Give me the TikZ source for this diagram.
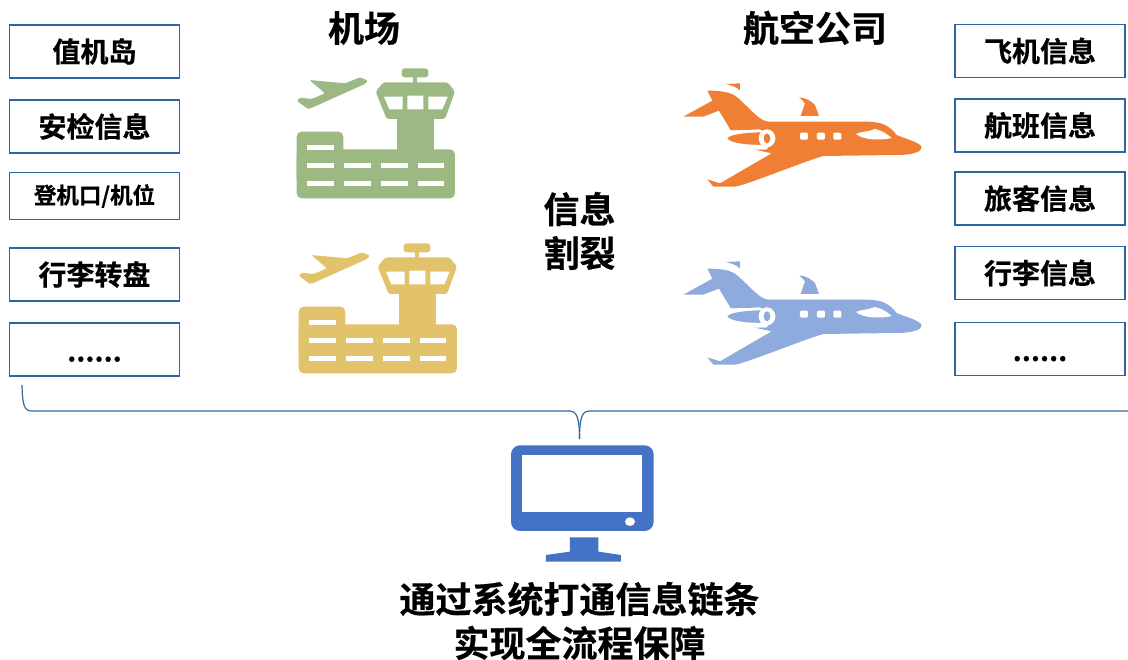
\documentclass[tikz,border=0pt]{standalone}
\usepackage{fontspec}
\setmainfont{Noto Sans CJK SC Bold}[FakeBold=0.5]
\definecolor{bx}{HTML}{2F659F}
\definecolor{agreen}{HTML}{9DB983}
\definecolor{ayellow}{HTML}{E3C26C}
\definecolor{porange}{HTML}{EF7F34}
\definecolor{pblue}{HTML}{8FAADC}
\definecolor{mon}{HTML}{4472C4}
\tikzset{
  infobox/.style={draw=bx,line width=1.5pt,minimum width=170pt,minimum height=53pt,inner sep=0pt,font=\fontsize{28}{30}\selectfont},
  smallbox/.style={infobox,font=\fontsize{22.5}{26}\selectfont},
  headline/.style={font=\fontsize{36}{44}\selectfont,align=center,inner sep=0pt},
  bracketline/.style={draw=bx,line width=1.2pt}
}
\newcommand{\airporticon}[1]{%
  \fill[#1,rounded corners=3pt] (365,55) rectangle (445,82);
  \fill[#1] (398,80) rectangle (412,100);
  \fill[#1,rounded corners=2.5pt]
    (310,97) -- (503,97) -- (525,125) -- (495,207) -- (320,207) -- (287,125) -- cycle;
  \fill[#1] (350,200) rectangle (462,305);
  \fill[white] (312,140) -- (368,140) -- (368,178) -- (328,178) -- cycle
    (382,137) -- (430,137) -- (430,178) -- (382,178) -- cycle
    (445,140) -- (503,140) -- (487,178) -- (445,178) -- cycle;
  \fill[#1,rounded corners=5pt] (50,245) rectangle (190,400);
  \fill[#1,rounded corners=5pt] (50,298) rectangle (525,445);
  \fill[white] (82,285) rectangle (162,300);
  \foreach \yy in {338,392}{
    \foreach \xx in {82,192,303,413}{
      \fill[white] (\xx,\yy) rectangle ++(80,15);
    }
  }
  \fill[#1,rounded corners=1.5pt]
    (264,92) -- (240,82) -- (195,100) -- (88,90) -- (135,130) -- (95,147) -- (60,143) -- (50,152) -- (85,178) -- (255,102) -- cycle;
}
\newcommand{\planeicon}[1]{%
  \fill[#1] (755,232) .. controls (752,218) and (710,208) .. (680,195)
    .. controls (660,170) and (640,155) .. (590,155)
    -- (300,155) .. controls (270,155) and (255,130) .. (205,85)
    .. controls (185,65) and (150,62) .. (112,62) -- (127,92) -- (40,140) -- (100,140) -- (147,122) -- (183,182)
    -- (270,178) -- (318,205) -- (290,238) -- (250,238) -- (305,250) -- (150,340) -- (112,328) -- (130,350) -- (195,350)
    .. controls (230,345) and (400,275) .. (460,258)
    -- (680,255) .. controls (730,255) and (755,245) .. (755,232) -- cycle;
  \fill[#1] (167,42) -- (210,40) -- (210,62) .. controls (200,50) and (185,47) .. (167,42) -- cycle;
  \fill[#1] (388,82) .. controls (410,84) and (425,95) .. (435,105) -- (447,138) -- (392,138) -- (405,100) -- cycle;
  \fill[white] (150,182) -- (270,180) -- (290,238) -- (200,240) -- cycle;
  \fill[#1] (172,205) .. controls (180,192) and (240,187) .. (280,187) -- (280,224) .. controls (240,226) and (180,220) .. (172,205) -- cycle;
  \fill[white] (291,205) ellipse [x radius=25,y radius=27];
  \fill[#1] (291,205) ellipse [x radius=10,y radius=15];
  \foreach \xx in {390,441,490}{
    \fill[white,rounded corners=1.2pt] (\xx,188) rectangle ++(24,21);
  }
  \fill[white] (558,192) .. controls (570,185) and (595,186) .. (615,177)
    .. controls (635,180) and (655,195) .. (665,204)
    .. controls (640,211) and (580,212) .. (558,192) -- cycle;
}
\begin{document}
\begin{tikzpicture}[x=1pt,y=-1pt]
\useasboundingbox (0,0) rectangle (1128,660);
% left boxes
\node[infobox] (a1) at (94.5,51.5) {值机岛};
\node[infobox] (a2) at (94.5,126.5) {安检信息};
\node[smallbox,minimum height=47pt] (a3) at (94.5,196) {登机口/机位};
\node[infobox] (a4) at (94.5,274.5) {行李转盘};
\node[infobox] (a5) at (94.5,349.5) {\raisebox{-12pt}[0pt][0pt]{......}};
% right boxes
\node[infobox] (b1) at (1040,51) {飞机信息};
\node[infobox] (b2) at (1040,125.5) {航班信息};
\node[infobox] (b3) at (1040,198.5) {旅客信息};
\node[infobox] (b4) at (1040,273) {行李信息};
\node[infobox] (b5) at (1040,349) {\raisebox{-12pt}[0pt][0pt]{......}};
% titles
\node[headline] (t1) at (364,28) {机场};
\node[headline] (t2) at (815,28) {航空公司};
\node[headline] (t3) at (579.5,231) {信息\\割裂};
\node[headline] (t4) at (579.5,621) {通过系统打通信息链条\\实现全流程保障};
% icons
\begin{scope}[shift={(280,50)},x=0.3333pt,y=-0.3333pt]\airporticon{agreen}\end{scope}
\begin{scope}[shift={(282,225)},x=0.3333pt,y=-0.3333pt]\airporticon{ayellow}\end{scope}
\begin{scope}[shift={(670,70)},x=0.3333pt,y=-0.3333pt]\planeicon{porange}\end{scope}
\begin{scope}[shift={(670,248)},x=0.3333pt,y=-0.3333pt]\planeicon{pblue}\end{scope}
% monitor
\begin{scope}[shift={(490,395)},x=0.3333pt,y=-0.3333pt]
  \fill[mon,rounded corners=9pt] (63,151) rectangle (491,408);
  \fill[white] (96,181) rectangle (456,351);
  \fill[white] (420,380) ellipse [x radius=15,y radius=13];
  \fill[mon] (240,427) -- (325,427) -- (325,470) -- (393,480) -- (393,500) -- (168,500) -- (168,480) -- (240,470) -- cycle;
\end{scope}
% bracket
\coordinate (bl) at (22,385);
\coordinate (br) at (1128,411);
\coordinate (bt) at (579.5,439);
\draw[bracketline] (bl) .. controls (22.5,405) and (24,411) .. (32,411) -- (570,411)
  .. controls (576,411) and (579.5,416) .. (bt);
\draw[bracketline] (bt) .. controls (579.5,416) and (583,411) .. (589,411) -- (br);
\end{tikzpicture}
\end{document}
